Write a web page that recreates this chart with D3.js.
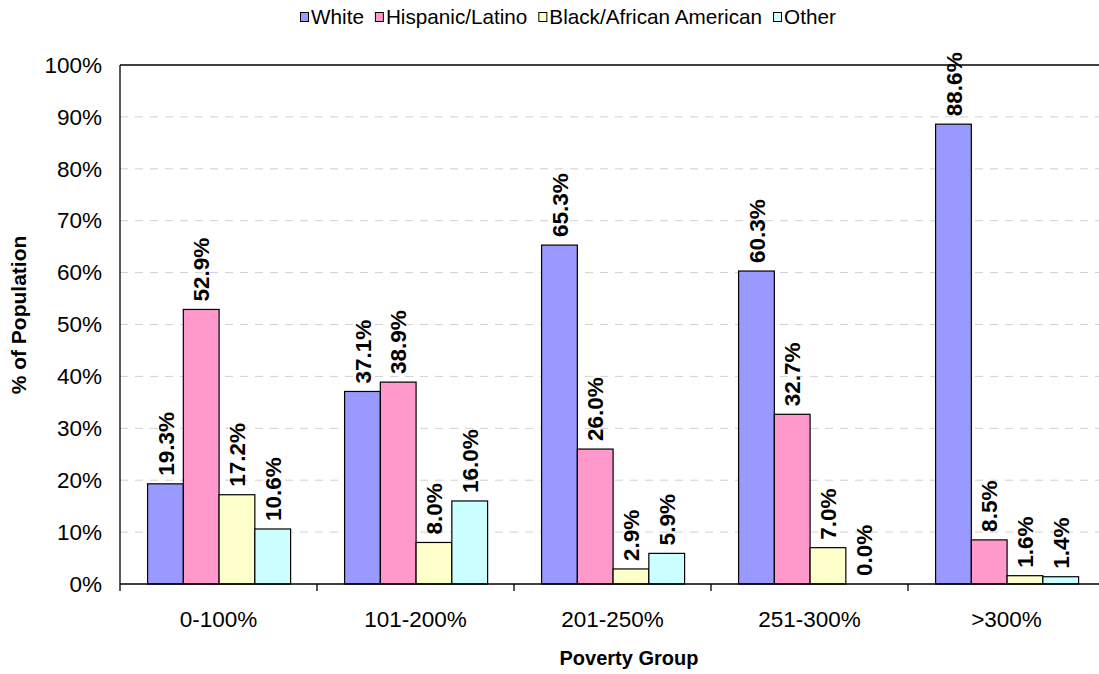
<!DOCTYPE html>
<html>
<head>
<meta charset="utf-8">
<script src="https://cdn.jsdelivr.net/npm/d3@7"></script>
<style>
  html, body { margin: 0; padding: 0; background: #fff; }
  svg { display: block; font-family: "Liberation Sans", Arial, sans-serif; }
</style>
</head>
<body>
<svg id="chart" width="1099" height="674"></svg>
<script>
// Poverty groups on the x axis
const categories = ["0-100%", "101-200%", "201-250%", "251-300%", ">300%"];
// Race / ethnicity series, in legend order
const seriesNames = ["White", "Hispanic/Latino", "Black/African American", "Other"];
const seriesColors = ["#9999FF", "#FF99CC", "#FFFFCC", "#CCFFFF"];
// Share of population (%) per poverty group, one array per series
const white    = [19.3, 37.1, 65.3, 60.3, 88.6];
const hispanic = [52.9, 38.9, 26.0, 32.7, 8.5];
const black    = [17.2, 8.0, 2.9, 7.0, 1.6];
const other    = [10.6, 16.0, 5.9, 0.0, 1.4];
const yTicks = [0, 10, 20, 30, 40, 50, 60, 70, 80, 90, 100];

const seriesValues = [white, hispanic, black, other];

const svg = d3.select("#chart");
const plotL = 120, plotR = 1105, plotT = 65, plotB = 584;

const x = d3.scaleBand().domain(categories).range([plotL, plotR]).padding(0);
const xInner = d3.scaleBand().domain(seriesNames)
  .range([x.bandwidth() * 0.14, x.bandwidth() * 0.866]).padding(0);
const y = d3.scaleLinear().domain([0, 100]).range([plotB, plotT]);

// dashed horizontal gridlines
svg.append("g")
  .selectAll("line")
  .data(yTicks.filter(t => t > 0 && t < 100))
  .join("line")
  .attr("x1", plotL).attr("x2", plotR)
  .attr("y1", d => y(d)).attr("y2", d => y(d))
  .attr("stroke", "#d0d0d0").attr("stroke-width", 1)
  .attr("stroke-dasharray", "8,7");

// plot frame: top edge
svg.append("line")
  .attr("x1", plotL).attr("x2", plotR)
  .attr("y1", plotT).attr("y2", plotT)
  .attr("stroke", "#000").attr("stroke-width", 1.3);

// bars
const rows = categories.map((c, i) => ({
  cat: c,
  vals: seriesNames.map((s, j) => ({ series: s, idx: j, v: seriesValues[j][i] }))
}));

const groups = svg.append("g").selectAll("g")
  .data(rows).join("g")
  .attr("transform", d => `translate(${x(d.cat)},0)`);

groups.selectAll("rect")
  .data(d => d.vals.filter(v => v.v > 0))
  .join("rect")
  .attr("x", d => xInner(d.series))
  .attr("width", xInner.bandwidth())
  .attr("y", d => y(d.v))
  .attr("height", d => y(0) - y(d.v))
  .attr("fill", d => seriesColors[d.idx])
  .attr("stroke", "#000").attr("stroke-width", 1.2);

// rotated value labels above each bar
groups.selectAll("text")
  .data(d => d.vals)
  .join("text")
  .attr("transform", d => `translate(${xInner(d.series) + xInner.bandwidth() / 2},${y(d.v) - 8}) rotate(-90)`)
  .attr("dy", "0.36em")
  .attr("text-anchor", "start")
  .attr("font-size", 22.5)
  .attr("font-weight", "bold")
  .attr("fill", "#000")
  .text(d => d.v.toFixed(1) + "%");

// y axis
const yAxis = d3.axisLeft(y).tickValues(yTicks).tickFormat(d => d + "%").tickSize(0).tickPadding(18);
const gy = svg.append("g").attr("transform", `translate(${plotL},0)`).call(yAxis);
gy.select(".domain").remove();
gy.selectAll("text").attr("font-size", 22.5).attr("font-family", null).attr("fill", "#000");
svg.append("line")
  .attr("x1", plotL).attr("x2", plotL)
  .attr("y1", plotT).attr("y2", plotB + 7)
  .attr("stroke", "#000").attr("stroke-width", 1.3);

// x axis with ticks at category boundaries
svg.append("line")
  .attr("x1", plotL).attr("x2", plotR)
  .attr("y1", plotB).attr("y2", plotB)
  .attr("stroke", "#000").attr("stroke-width", 1.5);
svg.append("g").selectAll("line")
  .data(categories.slice(1))
  .join("line")
  .attr("x1", d => x(d)).attr("x2", d => x(d))
  .attr("y1", plotB).attr("y2", plotB + 7)
  .attr("stroke", "#000").attr("stroke-width", 1.3);
svg.append("g").selectAll("text")
  .data(categories)
  .join("text")
  .attr("x", d => x(d) + x.bandwidth() / 2)
  .attr("y", 627)
  .attr("text-anchor", "middle")
  .attr("font-size", 22.5)
  .attr("fill", "#000")
  .text(d => d);

// axis titles
svg.append("text")
  .attr("x", 629).attr("y", 665)
  .attr("text-anchor", "middle")
  .attr("font-size", 20)
  .attr("font-weight", "bold")
  .text("Poverty Group");
svg.append("text")
  .attr("transform", "translate(26,315) rotate(-90)")
  .attr("text-anchor", "middle")
  .attr("font-size", 21)
  .attr("font-weight", "bold")
  .text("% of Population");

// legend
const legend = svg.append("g").attr("transform", "translate(300,0)");
let lx = 0;
seriesNames.forEach((name, i) => {
  legend.append("rect")
    .attr("x", lx + 0.5).attr("y", 12.5)
    .attr("width", 8).attr("height", 9)
    .attr("fill", seriesColors[i])
    .attr("stroke", "#000").attr("stroke-width", 1);
  const t = legend.append("text")
    .attr("x", lx + 11).attr("y", 24)
    .attr("font-size", 20.7)
    .attr("fill", "#000")
    .text(name);
  lx += 11 + t.node().getComputedTextLength() + 11;
});
</script>
</body>
</html>
